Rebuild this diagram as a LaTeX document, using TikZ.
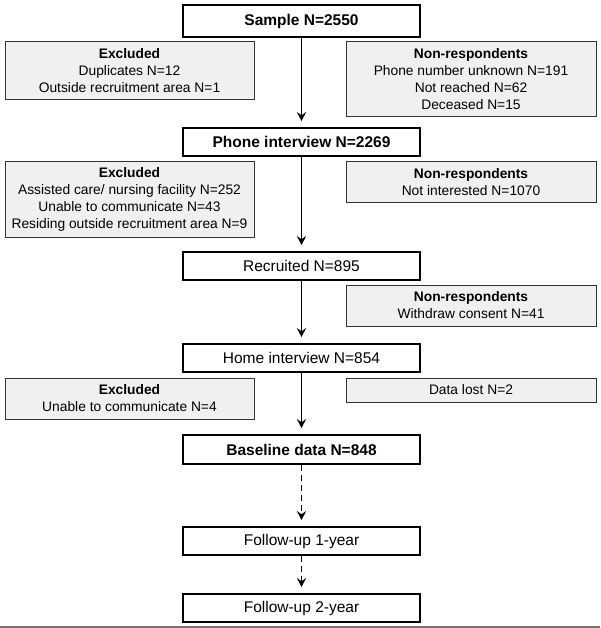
\documentclass[tikz,border=0pt]{standalone}
\usepackage{fontspec}
\setmainfont{Liberation Sans}
\usetikzlibrary{arrows.meta}
\begin{document}
\begin{tikzpicture}[x=1pt,y=-1pt,
  mainbox/.style={draw=black, line width=1.6pt, fill=white, minimum width=237pt, inner sep=0pt, align=center, font=\fontsize{15.5}{18}\selectfont},
  greybox/.style={draw=black!80, line width=1pt, fill=black!6, inner sep=0pt, align=center, font=\fontsize{13.8}{17}\selectfont},
  leftbox/.style={greybox, minimum width=249pt},
  rightbox/.style={greybox, minimum width=250pt},
  arr/.style={line width=1.5pt, shorten >=6pt, -{Stealth[length=9pt,width=9pt,inset=3pt]}},
  darr/.style={arr, dash pattern=on 6pt off 4pt}]
\useasboundingbox (0,0) rectangle (600,628);
% main column
\node[mainbox, minimum height=32pt] (sample) at (301.5,21) {\bfseries Sample N=2550};
\node[mainbox, minimum height=28pt] (phone) at (301.5,142) {\bfseries Phone interview N=2269};
\node[mainbox, minimum height=28pt] (recr) at (301.5,266) {Recruited N=895};
\node[mainbox, minimum height=28pt] (home) at (301.5,358) {Home interview N=854};
\node[mainbox, minimum height=29pt] (base) at (301.5,449.5) {\bfseries Baseline data N=848};
\node[mainbox, minimum height=28pt] (fu1) at (301.5,541) {Follow-up 1-year};
\node[mainbox, minimum height=28pt] (fu2) at (301.5,608) {Follow-up 2-year};
% side boxes
\node[leftbox, minimum height=58pt] (ex1) at (129.5,71) {\textbf{Excluded}\\Duplicates N=12\\Outside recruitment area N=1};
\node[rightbox, minimum height=75pt] (nr1) at (471,79.5) {\textbf{Non-respondents}\\Phone number unknown N=191\\Not reached N=62\\Deceased N=15};
\node[leftbox, minimum height=75pt] (ex2) at (129.5,199.5) {\textbf{Excluded}\\Assisted care/ nursing facility N=252\\Unable to communicate N=43\\Residing outside recruitment area N=9};
\node[rightbox, minimum height=41pt] (nr2) at (471,182.5) {\textbf{Non-respondents}\\Not interested N=1070};
\node[rightbox, minimum height=41pt] (nr3) at (471,305.5) {\textbf{Non-respondents}\\Withdraw consent N=41};
\node[leftbox, minimum height=41pt] (ex3) at (129.5,398.5) {\textbf{Excluded}\\Unable to communicate N=4};
\node[rightbox, minimum height=24pt] (lost) at (471,390) {Data lost N=2};
% connectors
\draw[arr] (sample) -- (phone);
\draw[arr] (phone) -- (recr);
\draw[arr] (recr) -- (home);
\draw[arr] (home) -- (base);
\draw[darr] (base) -- (fu1);
\draw[darr] (fu1) -- (fu2);
% bottom rule
\draw[black!55, line width=1.5pt] (0,627) -- (600,627);
\end{tikzpicture}
\end{document}
